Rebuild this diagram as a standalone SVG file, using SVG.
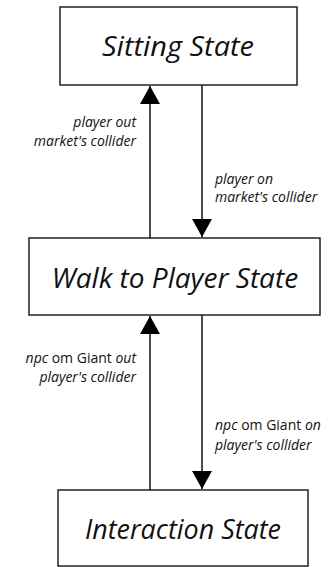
<svg xmlns="http://www.w3.org/2000/svg" width="335" height="567" viewBox="0 0 335 567">
<style>
.box{fill:#fff;stroke:#222;stroke-width:1.5}
.title{font-family:"Open Sans","Noto Sans",sans-serif;font-style:italic;font-size:28px;fill:#111;text-anchor:middle}
.lbl{font-family:"Open Sans","Noto Sans",sans-serif;font-style:italic;font-size:14px;fill:#111}
.up{font-style:normal}
.edge{stroke:#111;stroke-width:1.5;fill:none}
</style>
<defs>
<marker id="ah" markerWidth="18" markerHeight="20" refX="18" refY="10" orient="auto" markerUnits="userSpaceOnUse">
<path d="M0,0 L18,10 L0,20 Z" fill="#000"/>
</marker>
</defs>
<rect width="335" height="567" fill="#fff"/>
<g id="sitting">
<rect class="box" x="60" y="7" width="237" height="78"/>
<text class="title" x="178" y="56" textLength="152" lengthAdjust="spacingAndGlyphs">Sitting State</text>
</g>
<g id="walk">
<rect class="box" x="29" y="238" width="291" height="77"/>
<text class="title" x="175" y="288">Walk to Player State</text>
</g>
<g id="interaction">
<rect class="box" x="58" y="490" width="250" height="76"/>
<text class="title" x="183" y="539" textLength="196" lengthAdjust="spacingAndGlyphs">Interaction State</text>
</g>
<g id="connectors">
<line class="edge" x1="150" y1="238" x2="150" y2="86" marker-end="url(#ah)"/>
<line class="edge" x1="202" y1="85" x2="202" y2="237" marker-end="url(#ah)"/>
<line class="edge" x1="150" y1="490" x2="150" y2="316" marker-end="url(#ah)"/>
<line class="edge" x1="202" y1="315" x2="202" y2="489" marker-end="url(#ah)"/>
<text class="lbl" text-anchor="end" x="136" y="127">player out</text>
<text class="lbl" text-anchor="end" x="136" y="146">market's collider</text>
<text class="lbl" x="215" y="184">player on</text>
<text class="lbl" x="215" y="202">market's collider</text>
<text class="lbl" text-anchor="end" x="136" y="363">npc<tspan class="up"> om Giant </tspan>out</text>
<text class="lbl" text-anchor="end" x="136" y="382">player's collider</text>
<text class="lbl" x="215" y="430">npc<tspan class="up"> om Giant </tspan>on</text>
<text class="lbl" x="215" y="450">player's collider</text>
</g>
</svg>
